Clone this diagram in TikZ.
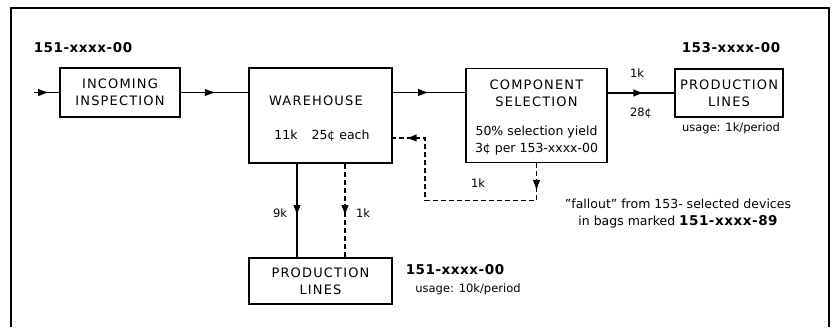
\documentclass[tikz,border=0pt]{standalone}
\usepackage{fontspec}
\setmainfont{DejaVu Sans}
\newfontfamily\capsfont{DejaVu Sans}[LetterSpace=9]
\newfontfamily\partfont{DejaVu Sans}[LetterSpace=4]
\usetikzlibrary{arrows.meta, calc}
\tikzset{
  block/.style={rectangle, draw=black, line width=1.4pt, inner sep=0pt},
  caps/.style={font=\capsfont\fontsize{13}{17}\selectfont, align=center, inner sep=0pt},
  body/.style={font=\fontsize{12.5}{17}\selectfont, align=center, inner sep=0pt},
  note/.style={font=\fontsize{11.5}{14}\selectfont, align=center, inner sep=0pt},
  partno/.style={font=\partfont\bfseries\fontsize{13.5}{16}\selectfont, inner sep=0pt},
  flow/.style={line width=1.4pt},
  fallout/.style={line width=1.4pt, dash pattern=on 5pt off 3pt},
  tipstroke/.style={line width=1.4pt, solid, -{Latex[length=11pt,width=7.5pt]}}
}
% Pfeilspitze mitten auf einer Verbindung: \midtip{von}{nach}{Anteil}
\newcommand{\midtip}[3]{
    \draw[tipstroke] ($(#1)!#3!(#2)!11pt!(#1)$) -- ($(#1)!#3!(#2)$);
}

\begin{document}
\begin{tikzpicture}[x=1pt, y=-1pt]
    \useasboundingbox (0,0) rectangle (838,327);

    % Rahmen (unten offen)
    \draw[line width=2.4pt] (11,327) -- (11,8) -- (829,8) -- (829,327);

    % ==========================================
    % 1. Eingang und Lager
    % ==========================================
    \node[partno] (pn151in) at (83,48) {151-xxxx-00};
    \node[block, caps, minimum width=120pt, minimum height=49pt] (inc) at (120,92.5) {INCOMING\\INSPECTION};
    \coordinate (feed) at (34,92.5);

    \node[block, minimum width=143pt, minimum height=95pt] (wh) at (320.5,115.5) {};
    \node[caps] (whname) at (316,101) {WAREHOUSE};
    \node[body] (whcost) at (322,136) {11k\hspace{14pt}25¢ each};

    \draw[flow] (feed) -- (inc.west);
    \midtip{feed}{inc.west}{0.6}
    \draw[flow] (inc.east) -- (wh.west |- inc.east);
    \midtip{inc.east}{wh.west |- inc.east}{0.52}

    % ==========================================
    % 2. Bauteilselektion und Linien 153
    % ==========================================
    \node[block, minimum width=141pt, minimum height=94pt] (cs) at (536.5,115.5) {};
    \node[caps] (csname) at (536.5,93.5) {COMPONENT\\SELECTION};
    \node[body] (csyield) at (536.5,140.5) {50\% selection yield\\3¢ per 153-xxxx-00};

    \node[block, caps, minimum width=108pt, minimum height=48pt] (pl153) at (729,93) {PRODUCTION\\LINES};
    \node[partno] (pn153) at (731,48) {153-xxxx-00};
    \node[note] (use153) at (731,128) {usage: 1k/period};

    \draw[flow] (wh.east |- inc.east) -- (cs.west |- inc.east);
    \midtip{wh.east |- inc.east}{cs.west |- inc.east}{0.5}
    \draw[flow] (cs.east |- pl153.west) -- (pl153.west);
    \midtip{cs.east |- pl153.west}{pl153.west}{0.55}
    \node[note] (qty153) at (637,73) {1k};
    \node[note] (cost153) at (641,113) {28¢};

    % Ausfall zurueck ins Lager (gestrichelt)
    \coordinate (fallA) at ($(cs.south)+(0,37)$);
    \coordinate (fallB) at (425,138);
    \draw[fallout] (cs.south) -- (fallA) -| (fallB) -- (wh.east |- fallB);
    \midtip{cs.south}{fallA}{0.75}
    \midtip{fallB}{wh.east |- fallB}{0.6}
    \node[note] (qtyfall) at (478,183) {1k};
    \node[body] (falltxt) at (678,213.5) {''fallout'' from 153- selected devices\\in bags marked {\partfont\bfseries\fontsize{13.5}{16}\selectfont 151-xxxx-89}};

    % ==========================================
    % 3. Linien 151
    % ==========================================
    \node[block, caps, minimum width=143pt, minimum height=46pt] (pl151) at (320.5,281) {PRODUCTION\\LINES};
    \node[partno] (pn151out) at (455,270) {151-xxxx-00};
    \node[note] (use151) at (468,289) {usage: 10k/period};

    \coordinate (lineA) at ([xshift=-23.5pt]wh.south);
    \coordinate (lineB) at ([xshift=24.5pt]wh.south);
    \draw[flow] (lineA) -- (lineA |- pl151.north);
    \midtip{lineA}{lineA |- pl151.north}{0.56}
    \draw[fallout] (lineB) -- (lineB |- pl151.north);
    \midtip{lineB}{lineB |- pl151.north}{0.56}
    \node[note] (qty9k) at (280,213) {9k};
    \node[note] (qty1k) at (363,213) {1k};

\end{tikzpicture}
\end{document}
